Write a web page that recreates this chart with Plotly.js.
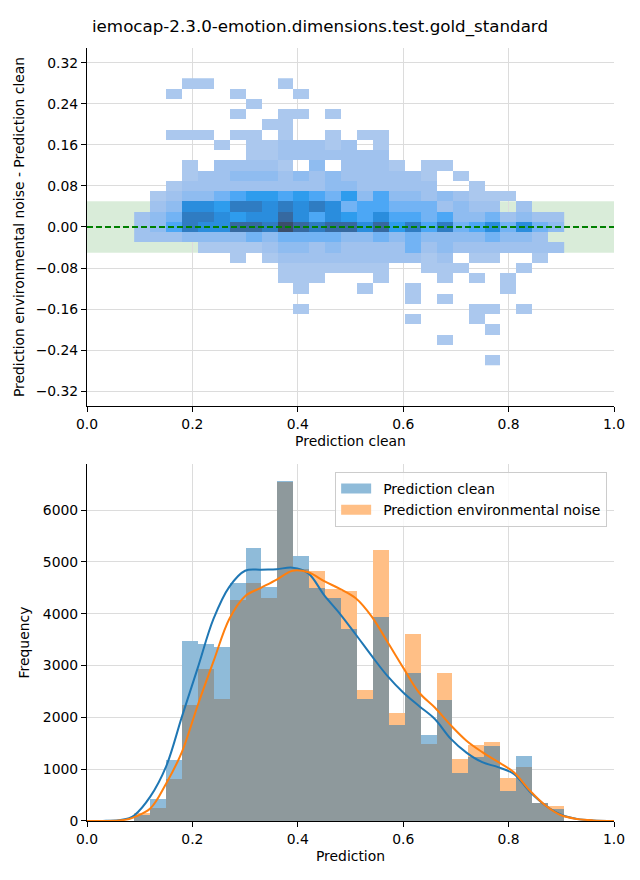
<!DOCTYPE html>
<html>
<head>
<meta charset="utf-8">
<script src="https://cdn.plot.ly/plotly-3.0.1.min.js"></script>
<style>
html,body{margin:0;padding:0;background:#fff;}
#chart{width:640px;height:880px;}
</style>
</head>
<body>
<div id="chart"></div>
<script>
// ---------- shared bins (Prediction axis) ----------
const binLo = 0.0895;
const binWidth = 0.0302;
const nBins = 27;

// ---------- bottom panel: histogram counts per bin ----------
const cleanCounts = [120, 430, 1180, 3468, 3410, 3350, 4600, 5275, 4525, 6560, 5120, 4493, 4300, 3700, 2350, 3930, 1852, 2850, 1660, 2333, 930, 1237, 1449, 583, 1256, 350, 237];
const noiseCounts = [150, 256, 820, 2240, 2930, 2360, 4256, 4600, 4300, 6540, 4865, 4833, 4470, 4430, 2525, 5237, 2083, 3600, 1487, 2852, 1200, 1468, 1526, 833, 1045, 350, 295];

// ---------- bottom panel: KDE curves (scaled to counts) ----------
const kdeX =      [0.00, 0.03, 0.06, 0.08, 0.09, 0.12, 0.15, 0.18, 0.21, 0.24, 0.27, 0.30, 0.33, 0.36, 0.39, 0.42, 0.45, 0.48, 0.51, 0.54, 0.57, 0.60, 0.63, 0.66, 0.69, 0.72, 0.75, 0.78, 0.81, 0.84, 0.87, 0.90, 0.93, 0.96, 1.00];
const kdeClean =  [0,    2,    15,   55,   110,  470,  1050, 2010, 2950, 3900, 4520, 4830, 4850, 4860, 4890, 4780, 4360, 4000, 3600, 3190, 2800, 2480, 2220, 1970, 1590, 1320, 1135, 1040, 910,  570,  300,  120,  40,   12,   2];
const kdeNoise =  [0,    1,    8,    40,   75,   240,  720,  1330, 2230, 3080, 3900, 4340, 4500, 4660, 4830, 4800, 4630, 4480, 4300, 3950, 3460, 2960, 2480, 2190, 1850, 1550, 1330, 1140, 940,  590,  300,  110,  40,   12,   2];

// ---------- top panel: 2D histogram (difference vs clean) ----------
const diffBinWidth = 0.02;
const diffRowK = [-13,-12,-11,-10,-9,-8,-7,-6,-5,-4,-3,-2,-1,0,1,2,3,4,5,6,7,8,9,10,11,12,13,14];
// relative density per cell (0 = empty), rows ordered as diffRowK, 27 columns each
const density2d = [
 [0,0,0,0,0,0,0,0,0,0,0,0,0,0,0,0,0,0,0,0,0,0,1,0,0,0,0],
 [0,0,0,0,0,0,0,0,0,0,0,0,0,0,0,0,0,0,0,0,0,0,0,0,0,0,0],
 [0,0,0,0,0,0,0,0,0,0,0,0,0,0,0,0,0,0,0,1,0,0,0,0,0,0,0],
 [0,0,0,0,0,0,0,0,0,0,0,0,0,0,0,0,0,0,0,0,0,0,1,0,0,0,0],
 [0,0,0,0,0,0,0,0,0,0,0,0,0,0,0,0,0,1,0,0,0,1,0,0,0,0,0],
 [0,0,0,0,0,0,0,0,0,0,1,0,0,0,0,0,0,0,0,0,0,1,1,0,1,0,0],
 [0,0,0,0,0,0,0,0,0,0,0,0,0,0,0,0,0,1,0,1,0,0,0,0,0,0,0],
 [0,0,0,0,0,0,0,0,0,0,1,0,0,0,1,0,0,1,0,0,0,0,0,1,0,0,0],
 [0,0,0,0,0,0,0,0,0,1,1,1,0,0,0,1,0,0,0,1,0,1,0,1,0,0,0],
 [0,0,0,0,0,0,0,0,0,1,1,1,1,1,1,1,0,0,1,1,1,0,0,0,1,0,0],
 [0,0,0,0,0,0,1,0,1,2,2,2,2,2,2,2,2,2,1,2,0,1,1,0,0,1,0],
 [0,0,0,0,1,1,1,1,2,3,3,2,3,2,2,2,2,4,2,3,2,2,2,2,2,2,2],
 [2,2,2,3,3,3,3,4,3,4,4,4,4,3,3,4,3,4,3,3,3,3,4,3,3,2,0],
 [2,3,5,8,7,7,9,9,8,10,9,8,9,9,7,9,6,8,5,8,4,5,7,4,7,4,3],
 [2,3,4,8,8,7,6,7,7,9,7,5,7,6,5,7,5,5,4,5,3,3,4,2,3,2,2],
 [0,2,3,7,7,6,8,8,7,8,7,8,7,4,5,5,4,4,4,2,3,2,2,0,2,0,0],
 [0,1,2,3,3,4,5,6,6,5,6,5,4,6,3,5,3,3,2,3,2,1,1,1,0,0,0],
 [0,0,1,2,2,2,2,2,2,2,2,2,3,3,2,2,2,2,2,0,0,1,0,0,0,0,0],
 [0,0,0,1,2,2,3,3,3,2,3,2,3,2,2,2,2,2,1,0,1,0,0,0,0,0,0],
 [0,0,0,1,0,2,2,2,2,1,0,3,0,2,2,2,1,0,1,1,0,0,0,0,0,0,0],
 [0,0,0,0,0,0,0,1,1,2,2,2,2,2,2,2,0,0,0,0,0,0,0,0,0,0,0],
 [0,0,0,0,0,1,0,1,1,2,2,2,1,2,0,1,0,0,0,0,0,0,0,0,0,0,0],
 [0,0,1,1,1,0,1,1,0,1,0,0,1,0,1,1,0,0,0,0,0,0,0,0,0,0,0],
 [0,0,0,0,0,0,0,0,1,1,0,0,0,0,0,0,0,0,0,0,0,0,0,0,0,0,0],
 [0,0,0,0,0,0,1,0,0,1,1,0,1,0,0,0,0,0,0,0,0,0,0,0,0,0,0],
 [0,0,0,0,0,0,0,1,0,0,0,0,0,0,0,0,0,0,0,0,0,0,0,0,0,0,0],
 [0,0,1,0,0,0,1,0,0,0,1,0,0,0,0,0,0,0,0,0,0,0,0,0,0,0,0],
 [0,0,0,1,1,0,0,0,0,1,0,0,0,0,0,0,0,0,0,0,0,0,0,0,0,0,0]
];

// tolerance band and series labels
const bandHalfWidth = 0.05;
const labelSeries = ['Prediction clean', 'Prediction environmental noise'];

// ---------- derived ----------
const binCenters = [];
for (let i = 0; i < nBins; i++) binCenters.push(binLo + binWidth * (i + 0.5));
const overlapCounts = cleanCounts.map((v, i) => Math.min(v, noiseCounts[i]));
const diffCenters = diffRowK.map(k => k * diffBinWidth);
const zCells = density2d.map(r => r.map(v => (v === 0 ? null : v)));

const FONT = 'DejaVu Sans, Liberation Sans, sans-serif';
const CLEAN_FILL = '#8fbbd9';
const NOISE_FILL = '#ffbf86';
const LEGEND_PAD = '\u2002';

const traces = [
  {
    type: 'heatmap', x: binCenters, y: diffCenters, z: zCells,
    xaxis: 'x', yaxis: 'y', zmin: 1, zmax: 10, showscale: false, hoverinfo: 'skip', showlegend: false,
    colorscale: [
      [0.000, '#abc8ee'], [0.111, '#a0c2ee'], [0.222, '#8fbcf0'], [0.333, '#72b3f4'],
      [0.444, '#4ca7f5'], [0.556, '#2e9ced'], [0.667, '#2a8ddd'], [0.778, '#2f7cc2'],
      [0.889, '#3669a0'], [1.000, '#3b4e6a']
    ]
  },
  {
    type: 'bar', x: binCenters, y: cleanCounts, width: binWidth, showlegend: false,
    xaxis: 'x2', yaxis: 'y2', marker: {color: CLEAN_FILL, line: {width: 0}}, hoverinfo: 'skip'
  },
  {
    type: 'bar', x: binCenters, y: noiseCounts, width: binWidth, showlegend: false,
    xaxis: 'x2', yaxis: 'y2', marker: {color: NOISE_FILL, line: {width: 0}}, hoverinfo: 'skip'
  },
  {
    type: 'bar', x: binCenters, y: overlapCounts, width: binWidth, showlegend: false,
    xaxis: 'x2', yaxis: 'y2', marker: {color: '#8e999c', line: {width: 0}}, hoverinfo: 'skip'
  },
  {
    type: 'scatter', mode: 'lines', x: kdeX, y: kdeClean, showlegend: false,
    xaxis: 'x2', yaxis: 'y2', line: {color: '#1f77b4', width: 2, shape: 'spline', smoothing: 1}, hoverinfo: 'skip'
  },
  {
    type: 'scatter', mode: 'lines', x: kdeX, y: kdeNoise, showlegend: false,
    xaxis: 'x2', yaxis: 'y2', line: {color: '#ff7f0e', width: 2, shape: 'spline', smoothing: 1}, hoverinfo: 'skip'
  },
  // legend keys (patch-like swatches)
  {
    type: 'scatter', mode: 'lines', x: [null], y: [null], name: LEGEND_PAD + labelSeries[0],
    xaxis: 'x2', yaxis: 'y2', line: {color: CLEAN_FILL, width: 10}, hoverinfo: 'skip'
  },
  {
    type: 'scatter', mode: 'lines', x: [null], y: [null], name: LEGEND_PAD + labelSeries[1],
    xaxis: 'x2', yaxis: 'y2', line: {color: NOISE_FILL, width: 10}, hoverinfo: 'skip'
  }
];

const TICK = 13.9;
const axisCommon = {
  showline: true, linecolor: '#000', linewidth: 1, mirror: false,
  ticks: 'outside', ticklen: 5, tickwidth: 1, tickcolor: '#000',
  showgrid: true, gridcolor: '#dcdcdc', gridwidth: 1, zeroline: false,
  tickfont: {family: FONT, size: TICK, color: '#000'},
  automargin: false
};

const layout = {
  width: 640, height: 880,
  paper_bgcolor: '#fff', plot_bgcolor: '#fff',
  margin: {l: 87, r: 26, t: 48, b: 59},
  font: {family: FONT, color: '#000'},
  barmode: 'overlay', bargap: 0,
  showlegend: true,
  title: {
    text: 'iemocap-2.3.0-emotion.dimensions.test.gold_standard',
    font: {family: FONT, size: 16.7, color: '#000'},
    xref: 'container', x: 0.5, xanchor: 'center',
    yref: 'container', y: 1 - 26 / 880, yanchor: 'middle'
  },
  xaxis: Object.assign({}, axisCommon, {
    domain: [0, 1], anchor: 'y', range: [0, 1], dtick: 0.2, tick0: 0, tickformat: '.1f',
    title: {text: 'Prediction clean', font: {family: FONT, size: TICK}, standoff: 5}
  }),
  yaxis: Object.assign({}, axisCommon, {
    domain: [0.5369, 1], anchor: 'x', range: [-0.349, 0.349], dtick: 0.08, tick0: 0, tickformat: '.2f',
    title: {text: 'Prediction environmental noise - Prediction clean', font: {family: FONT, size: TICK}, standoff: 7}
  }),
  xaxis2: Object.assign({}, axisCommon, {
    domain: [0, 1], anchor: 'y2', range: [0, 1], dtick: 0.2, tick0: 0, tickformat: '.1f',
    title: {text: 'Prediction', font: {family: FONT, size: TICK}, standoff: 5}
  }),
  yaxis2: Object.assign({}, axisCommon, {
    domain: [0, 0.4618], anchor: 'x2', range: [0, 6890], dtick: 1000, tick0: 0, tickformat: 'd',
    title: {text: 'Frequency', font: {family: FONT, size: TICK}, standoff: 9}
  }),
  legend: {
    x: 0.987, xanchor: 'right', y: 0.4515, yanchor: 'top',
    bgcolor: 'rgba(255,255,255,0.8)', bordercolor: '#cccccc', borderwidth: 1,
    font: {family: FONT, size: 14, color: '#000'},
    traceorder: 'normal', tracegroupgap: 0, itemwidth: 30
  },
  shapes: [
    {
      type: 'rect', xref: 'x domain', yref: 'y', x0: 0, x1: 1,
      y0: -bandHalfWidth, y1: bandHalfWidth,
      fillcolor: 'rgba(0,128,0,0.15)', line: {width: 0}, layer: 'below'
    },
    {
      type: 'line', xref: 'x domain', yref: 'y', x0: 0, x1: 1, y0: 0, y1: 0,
      line: {color: '#008000', width: 2, dash: '6px,3px'}, layer: 'above'
    }
  ]
};

Plotly.newPlot('chart', traces, layout, {displayModeBar: false, staticPlot: true});
</script>
</body>
</html>
